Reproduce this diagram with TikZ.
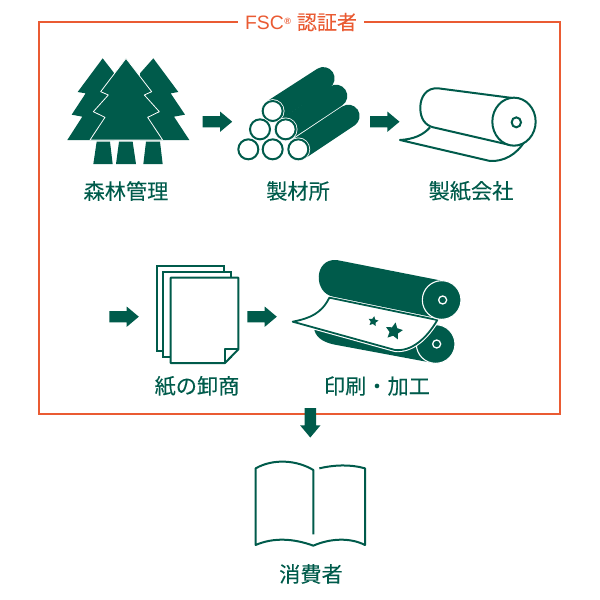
\documentclass[tikz,border=0pt]{standalone}
\usepackage{fontspec}
\setmainfont{Noto Sans CJK JP}[FakeBold=0.1]
\newfontfamily\latinfont{Liberation Sans}
\usetikzlibrary{shapes.arrows,shapes.geometric}
\definecolor{leaf}{HTML}{005B4B}
\definecolor{frameline}{HTML}{EA5B33}
\begin{document}
\begin{tikzpicture}[x=1pt,y=-1pt]
	\useasboundingbox (0,0) rectangle (600,600);

	\draw[frameline, line width=2.8pt] (39,22) rectangle (560,414);
	\node (title) [fill=white, text=frameline, inner xsep=7pt, inner ysep=1pt, font=\fontsize{20}{20}\selectfont] at (301,22) {{\latinfont\fontsize{19.4}{19.4}\selectfont FSC\kern0.5pt\raisebox{5pt}{\fontsize{9}{9}\selectfont\bfseries ®}}\kern6pt 認証者};

	% trees
	\begin{scope}[shift={(50,40)}, scale=1/3]
		\fill[leaf] (158,55) -- (193,100) -- (193,300) -- (52,300) -- (97,230) -- (65,224) -- (107,160) -- (83,156) -- cycle;
		\fill[leaf] (310,55) -- (385,156) -- (362,160) -- (405,224) -- (372,230) -- (418,300) -- (270,300) -- (270,100) -- cycle;
		\filldraw[leaf, draw=white, line width=0.8pt, line join=round] (228,55) -- (305,155) -- (283,165) -- (328,215) -- (293,232) -- (338,300) -- (120,300) -- (165,232) -- (130,215) -- (175,165) -- (152,155) -- cycle;
		\fill[leaf] (140,305) -- (180,305) -- (188,372) -- (130,372) -- cycle;
		\fill[leaf] (207,305) -- (248,305) -- (258,372) -- (198,372) -- cycle;
		\fill[leaf] (288,305) -- (330,305) -- (338,372) -- (280,372) -- cycle;
	\end{scope}

	% logs and paper roll
	\begin{scope}[shift={(220,50)}, scale=1/3]
		\draw[leaf, line width=22.6pt, line cap=round] (235,298) -- (385,198);
		\draw[leaf, line width=22.6pt, line cap=round] (197,238) -- (348,138);
		\draw[leaf, line width=22.6pt, line cap=round] (158,183) -- (310,85);
		\foreach \cx/\cy in {158/183, 120/238, 197/238, 85/298, 158/298, 235/298} {
			\fill[white] (\cx,\cy) circle (35.5);
			\filldraw[fill=white, draw=leaf, line width=2pt] (\cx,\cy) circle (30);
		}
		\draw[leaf, line width=2pt, line join=round] (630,232) .. controls (610,255) and (580,268) .. (540,270) -- (810,333) .. controls (850,335) and (890,315) .. (915,272);
		\draw[leaf, line width=2pt, fill=white] (885,145) -- (655,115) .. controls (620,112) and (600,140) .. (601,175) .. controls (601,205) and (615,226) .. (640,232) -- (870,285);
		\filldraw[fill=white, draw=leaf, line width=2pt] (882,215) ellipse (65 and 72);
		\draw[leaf, line width=2pt] (889,217) ellipse (14 and 15);
	\end{scope}

	% stack of paper
	\begin{scope}[shift={(100,250)}, scale=1/3]
		\filldraw[fill=white, draw=leaf, line width=2pt] (172,47) rectangle (373,304);
		\filldraw[fill=white, draw=leaf, line width=2pt] (190,65) rectangle (392,322);
		\filldraw[fill=white, draw=leaf, line width=2pt, line join=round] (212,83) -- (415,83) -- (415,298) -- (375,339) -- (212,339) -- cycle;
		\draw[leaf, line width=2pt, line join=round] (375,339) -- (375,298) -- (415,298);

		% printing rolls
		\fill[leaf] (643,240) .. controls (650,268) and (680,280) .. (710,285) -- (1000,339) -- (1007,225) -- (900,250) -- cycle;
		\draw[white, line width=1.1pt, fill=leaf] (1007,282) circle (58);
		\draw[white, line width=1.3pt] (1010,282) circle (12);
		\filldraw[fill=white, draw=white, line width=4pt, line join=round] (578,215) .. controls (630,205) and (665,190) .. (688,143) -- (1012,210) .. controls (980,265) and (935,305) .. (885,300) -- cycle;
		\filldraw[fill=white, draw=leaf, line width=1.8pt, line join=round] (578,215) .. controls (630,205) and (665,190) .. (688,143) -- (1012,210) .. controls (980,265) and (935,305) .. (885,300) -- cycle;
		\fill[leaf] (710,30) -- (1030,93) -- (1025,207) -- (700,140) .. controls (640,130) and (640,25) .. (710,30) -- cycle;
		\draw[white, line width=1.1pt, fill=leaf] (1025,150) circle (58);
		\draw[white, line width=1.3pt] (1028,150) circle (12);
		\node (star1) [star, star points=5, star point ratio=2, fill=leaf, inner sep=0pt, minimum size=10.5pt, rotate=-10] at (820,214) {};
		\node (star2) [star, star points=5, star point ratio=2, fill=leaf, inner sep=0pt, minimum size=18pt, rotate=-10] at (882,244) {};
	\end{scope}

	% book
	\begin{scope}[shift={(230,400)}, scale=1/3]
		\draw[leaf, line width=2pt, line join=round] (250,403) -- (250,210) .. controls (200,180) and (130,175) .. (77,205) -- (77,435) .. controls (130,412) and (190,415) .. (250,437) .. controls (300,415) and (360,412) .. (405,435) -- (405,205) .. controls (360,192) and (310,195) .. (268,205);
	\end{scope}

	\begin{scope}[every node/.style={single arrow, anchor=tail, fill=leaf, inner xsep=0pt, inner ysep=5.5pt, outer sep=0pt, minimum height=29.5pt, single arrow head extend=4.5pt, single arrow tip angle=80}]
		\node (arrow1) at (202.7,121.7) {};
		\node (arrow2) at (370,121.7) {};
		\node (arrow3) at (109.3,316.7) {};
		\node (arrow4) at (247.3,316.7) {};
		\node (arrow5) [rotate=-90] at (310.3,408) {};
	\end{scope}

	\begin{scope}[every node/.style={text=leaf, inner sep=0pt, font=\fontsize{21.2}{21.2}\selectfont}]
		\node (forest) at (126,191) {森林管理};
		\node (sawmill) at (298,191) {製材所};
		\node (papermill) at (471,191) {製紙会社};
		\node (wholesaler) at (197,386) {紙の卸商};
		\node (printer) at (377,386) {印刷・加工};
		\node (consumer) at (311,574) {消費者};
	\end{scope}
\end{tikzpicture}
\end{document}
